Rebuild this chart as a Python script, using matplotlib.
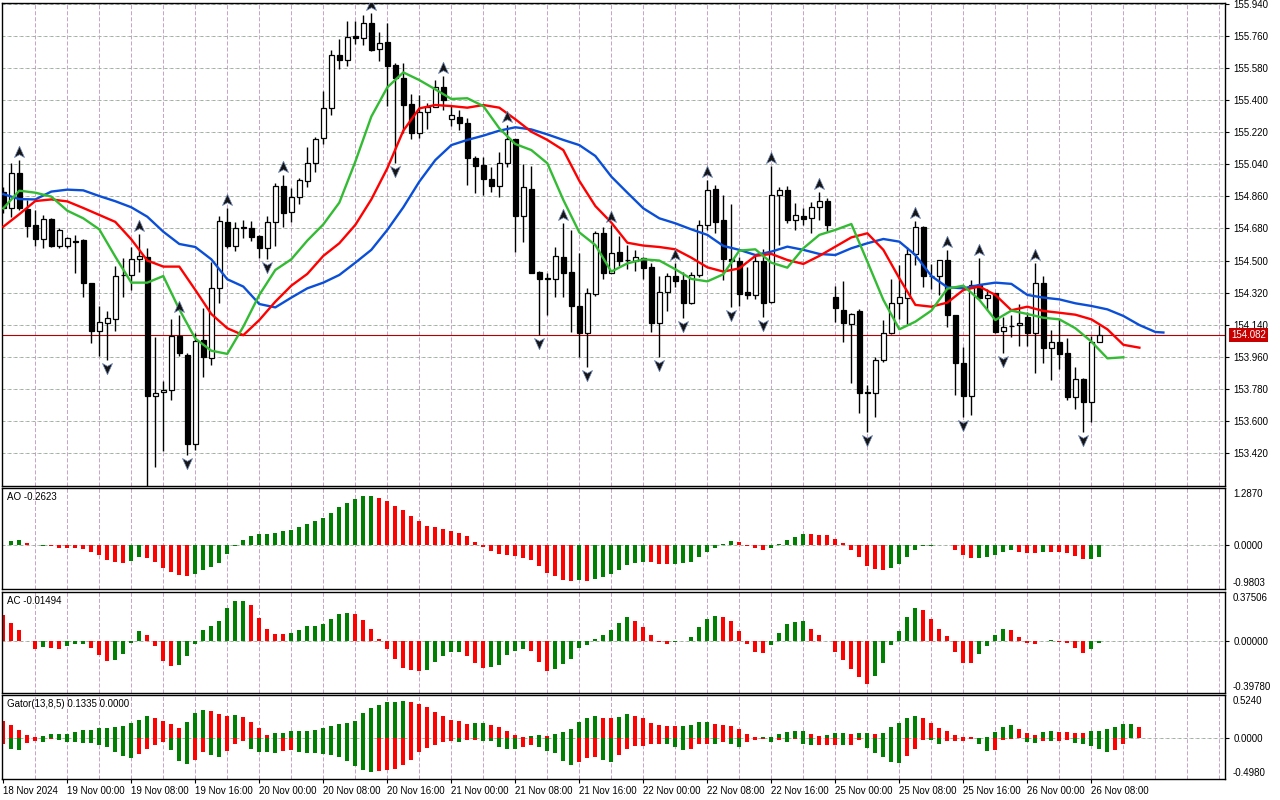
import numpy as np
import matplotlib.pyplot as plt
from matplotlib.path import Path
from matplotlib.transforms import offset_copy

plt.rcParams['font.family'] = ['Liberation Sans', 'DejaVu Sans']
plt.rcParams['font.size'] = 7
plt.rcParams['lines.scale_dashes'] = False

# hourly bars, first bar = 18 Nov 2024 16:00
opens = [154.887, 154.793, 154.990, 154.788, 154.698, 154.623, 154.733, 154.582, 154.582, 154.608,
         154.616, 154.372, 154.107, 154.152, 154.171, 154.417, 154.417, 154.507, 154.522, 153.741,
         153.760, 153.773, 154.077, 153.970, 153.468, 154.055, 153.952, 154.344, 154.716, 154.582,
         154.687, 154.685, 154.638, 154.569, 154.715, 154.918, 154.771, 154.859, 154.948, 155.050,
         155.186, 155.354, 155.653, 155.625, 155.760, 155.747, 155.831, 155.685, 155.728, 155.597,
         155.523, 155.379, 155.214, 155.336, 155.364, 155.472, 155.293, 155.308, 155.270, 155.074,
         155.036, 154.958, 154.920, 155.050, 155.180, 154.750, 154.900, 154.438, 154.398, 154.395,
         154.522, 154.434, 154.245, 154.096, 154.312, 154.653, 154.432, 154.546, 154.505, 154.500,
         154.513, 154.466, 154.151, 154.325, 154.413, 154.391, 154.260, 154.417, 154.698, 154.902,
         154.728, 154.511, 154.500, 154.323, 154.308, 154.500, 154.269, 154.868, 154.896, 154.727,
         154.750, 154.737, 154.799, 154.834, 154.297, 154.223, 154.144, 154.217, 153.762, 153.758,
         153.942, 154.092, 154.260, 154.288, 154.535, 154.687, 154.415, 154.413, 154.503, 154.194,
         153.923, 153.740, 154.363, 154.288, 154.316, 154.107, 154.135, 154.137, 154.185, 154.096,
         154.376, 154.007, 154.045, 153.979, 153.732, 153.833, 153.708, 154.045]
highs = [154.915, 155.046, 155.064, 154.840, 154.784, 154.756, 154.737, 154.681, 154.634, 154.644,
         154.619, 154.374, 154.245, 154.214, 154.470, 154.513, 154.574, 154.647, 154.569, 154.073,
         153.824, 154.170, 154.195, 153.979, 154.092, 154.232, 154.494, 154.750, 154.793, 154.718,
         154.727, 154.724, 154.644, 154.750, 154.937, 154.980, 154.905, 154.965, 155.139, 155.192,
         155.453, 155.681, 155.741, 155.846, 155.846, 155.878, 155.891, 155.784, 155.835, 155.607,
         155.611, 155.433, 155.429, 155.386, 155.513, 155.536, 155.367, 155.345, 155.298, 155.087,
         155.083, 155.027, 155.107, 155.261, 155.182, 155.042, 155.031, 154.440, 154.432, 154.574,
         154.712, 154.672, 154.541, 154.344, 154.668, 154.687, 154.700, 154.638, 154.588, 154.560,
         154.522, 154.485, 154.413, 154.432, 154.485, 154.438, 154.438, 154.727, 154.952, 154.924,
         154.868, 154.817, 154.522, 154.466, 154.526, 154.563, 155.031, 154.915, 154.918, 154.821,
         154.793, 154.831, 154.887, 154.849, 154.357, 154.387, 154.208, 154.226, 153.801, 153.961,
         154.166, 154.395, 154.475, 154.578, 154.724, 154.694, 154.479, 154.503, 154.560, 154.196,
         154.017, 154.391, 154.513, 154.338, 154.318, 154.185, 154.194, 154.256, 154.213, 154.485,
         154.413, 154.110, 154.170, 154.064, 153.904, 153.839, 154.077, 154.138]
lows = [154.765, 154.746, 154.784, 154.634, 154.582, 154.569, 154.578, 154.569, 154.569, 154.429,
        154.294, 154.036, 153.965, 153.942, 154.107, 154.294, 154.335, 154.438, 153.236, 153.343,
        153.433, 153.717, 153.965, 153.408, 153.436, 153.844, 153.914, 154.260, 154.569, 154.556,
        154.629, 154.612, 154.516, 154.507, 154.582, 154.690, 154.718, 154.818, 154.915, 154.999,
        155.154, 155.317, 155.575, 155.592, 155.713, 155.710, 155.678, 155.622, 155.367, 155.046,
        155.218, 155.180, 155.186, 155.236, 155.360, 155.345, 155.255, 155.233, 154.922, 154.877,
        154.870, 154.883, 154.859, 155.023, 154.550, 154.602, 154.429, 154.082, 154.194, 154.297,
        154.294, 154.097, 153.957, 153.904, 154.301, 154.395, 154.429, 154.470, 154.451, 154.444,
        154.395, 154.101, 153.960, 154.219, 154.350, 154.176, 154.256, 154.410, 154.672, 154.653,
        154.391, 154.241, 154.245, 154.282, 154.282, 154.185, 154.264, 154.588, 154.709, 154.672,
        154.700, 154.656, 154.727, 154.662, 154.157, 154.045, 153.811, 153.642, 153.539, 153.623,
        153.932, 154.088, 154.170, 154.144, 154.475, 154.354, 154.338, 154.307, 154.129, 153.745,
        153.623, 153.633, 154.282, 154.222, 154.092, 153.983, 154.073, 154.021, 154.021, 153.871,
        153.927, 153.829, 153.889, 153.717, 153.665, 153.539, 153.596, 154.045]
closes = [154.793, 154.990, 154.793, 154.694, 154.623, 154.731, 154.582, 154.672, 154.625, 154.604,
          154.372, 154.107, 154.154, 154.176, 154.414, 154.421, 154.507, 154.526, 153.741, 153.758,
          153.773, 154.077, 153.979, 153.468, 154.049, 153.957, 154.344, 154.722, 154.582, 154.685,
          154.683, 154.634, 154.569, 154.715, 154.918, 154.765, 154.859, 154.952, 155.046, 155.180,
          155.354, 155.653, 155.625, 155.753, 155.747, 155.831, 155.681, 155.722, 155.594, 155.523,
          155.373, 155.214, 155.336, 155.364, 155.472, 155.401, 155.317, 155.270, 155.074, 155.032,
          154.958, 154.920, 155.050, 155.180, 154.750, 154.911, 154.432, 154.395, 154.396, 154.528,
          154.432, 154.245, 154.096, 154.316, 154.653, 154.432, 154.544, 154.500, 154.501, 154.518,
          154.460, 154.151, 154.325, 154.413, 154.387, 154.260, 154.417, 154.698, 154.896, 154.718,
          154.507, 154.500, 154.312, 154.308, 154.500, 154.264, 154.868, 154.896, 154.727, 154.756,
          154.735, 154.802, 154.834, 154.700, 154.232, 154.148, 154.200, 153.758, 153.758, 153.942,
          154.092, 154.260, 154.294, 154.535, 154.687, 154.413, 154.411, 154.503, 154.194, 153.923,
          153.740, 154.363, 154.288, 154.307, 154.101, 154.129, 154.131, 154.152, 154.096, 154.372,
          154.007, 154.045, 153.974, 153.736, 153.833, 153.708, 154.045, 154.082]
last_price = 154.082

# alligator lines (already shifted), sampled every second bar
jaw_bars = list(range(0, 145, 2)) + [145]
jaw = [154.873, 154.845, 154.843, 154.887, 154.898, 154.894, 154.862, 154.833, 154.799, 154.746,
       154.662, 154.593, 154.576, 154.507, 154.395, 154.354, 154.256, 154.237, 154.292, 154.344,
       154.376, 154.419, 154.488, 154.560, 154.672, 154.799, 154.943, 155.064, 155.148, 155.177,
       155.201, 155.229, 155.248, 155.236, 155.208, 155.177, 155.148, 155.087, 154.971, 154.881,
       154.793, 154.737, 154.709, 154.675, 154.644, 154.582, 154.560, 154.531, 154.550, 154.578,
       154.560, 154.537, 154.531, 154.569, 154.597, 154.621, 154.606, 154.531, 154.413, 154.350,
       154.344, 154.363, 154.376, 154.369, 154.307, 154.292, 154.282, 154.260, 154.245, 154.226,
       154.189, 154.138, 154.099, 154.096]
teeth_bars = list(range(0, 143, 2))
teeth = [154.690, 154.760, 154.834, 154.843, 154.832, 154.795, 154.756, 154.717, 154.619, 154.500,
         154.466, 154.466, 154.335, 154.200, 154.120, 154.081, 154.166, 154.269, 154.359, 154.425,
         154.526, 154.597, 154.700, 154.843, 155.018, 155.229, 155.354, 155.373, 155.367, 155.358,
         155.373, 155.358, 155.293, 155.223, 155.177, 155.120, 154.947, 154.806, 154.713, 154.600,
         154.584, 154.576, 154.563, 154.516, 154.462, 154.438, 154.456, 154.526, 154.537, 154.503,
         154.481, 154.526, 154.578, 154.630, 154.653, 154.560, 154.400, 154.251, 154.241, 154.264,
         154.335, 154.354, 154.307, 154.221, 154.241, 154.217, 154.207, 154.196, 154.170, 154.114,
         154.027, 154.011]
lips_bars = list(range(0, 141, 2))
lips = [154.793, 154.892, 154.881, 154.859, 154.780, 154.737, 154.675, 154.522, 154.376, 154.376,
        154.413, 154.226, 154.062, 153.994, 153.976, 154.129, 154.307, 154.447, 154.507, 154.612,
        154.703, 154.825, 155.055, 155.308, 155.472, 155.556, 155.513, 155.461, 155.407, 155.411,
        155.367, 155.242, 155.154, 155.120, 155.046, 154.840, 154.658, 154.587, 154.438, 154.484,
        154.507, 154.500, 154.451, 154.397, 154.383, 154.423, 154.556, 154.563, 154.488, 154.460,
        154.569, 154.644, 154.672, 154.705, 154.494, 154.279, 154.114, 154.157, 154.219, 154.342,
        154.359, 154.279, 154.166, 154.219, 154.200, 154.179, 154.170, 154.120, 154.045, 153.951,
        153.957]

fractal_up = [2, 17, 22, 28, 35, 46, 55, 63, 70, 76, 84, 88, 96, 102, 114, 118, 122, 129]
fractal_down = [13, 18, 23, 33, 49, 67, 73, 82, 85, 91, 95, 108, 120, 125, 135]

# Awesome oscillator
ao = [0.015, 0.090, 0.112, 0.060, 0.002, -0.007, -0.010, -0.055, -0.060, -0.065,
      -0.090, -0.150, -0.224, -0.337, -0.381, -0.404, -0.359, -0.269, -0.284, -0.374,
      -0.509, -0.598, -0.673, -0.688, -0.643, -0.561, -0.486, -0.396, -0.202, -0.015,
      0.112, 0.202, 0.247, 0.250, 0.277, 0.314, 0.344, 0.411, 0.479, 0.546,
      0.606, 0.718, 0.853, 0.950, 1.032, 1.100, 1.102, 1.062, 0.995, 0.875,
      0.785, 0.651, 0.539, 0.426, 0.404, 0.359, 0.314, 0.269, 0.202, 0.067,
      -0.030, -0.127, -0.194, -0.224, -0.247, -0.292, -0.337, -0.471, -0.628, -0.696,
      -0.785, -0.808, -0.785, -0.808, -0.755, -0.718, -0.651, -0.561, -0.449, -0.404,
      -0.381, -0.385, -0.426, -0.430, -0.426, -0.404, -0.381, -0.269, -0.157, -0.067,
      0.022, 0.090, 0.067, -0.015, -0.067, -0.112, -0.067, 0.022, 0.112, 0.180,
      0.247, 0.245, 0.243, 0.224, 0.135, 0.045, -0.105, -0.262, -0.471, -0.531,
      -0.561, -0.509, -0.419, -0.262, -0.105, -0.010, -0.004, 0.015, 0.018, -0.105,
      -0.217, -0.284, -0.280, -0.269, -0.217, -0.150, -0.105, -0.150, -0.172, -0.175,
      -0.150, -0.152, -0.155, -0.172, -0.239, -0.307, -0.300, -0.2623]
ao_dir = ("gggrrgrrrr" "rrrrrrggrr" "rrrrgggggg" "gggggggggg" "gggggggrrr"
          "rrrrrrrrrr" "rrrrrrrrrr" "rrgrgggggg" "grrrgggggg" "ggrrrrgggg"
          "grrrrrrrrr" "rggggggggr" "rrgggggrrr" "grrrrrgg")

# Accelerator oscillator
ac = [0.196, 0.138, 0.082, -0.003, -0.064, -0.048, -0.056, -0.064, -0.041, -0.023,
      -0.020, -0.056, -0.110, -0.156, -0.148, -0.102, -0.015, 0.074, 0.043, -0.041,
      -0.156, -0.194, -0.186, -0.117, -0.023, 0.082, 0.112, 0.150, 0.250, 0.303,
      0.305, 0.273, 0.173, 0.089, 0.051, 0.050, 0.059, 0.082, 0.112, 0.113,
      0.128, 0.166, 0.204, 0.212, 0.204, 0.158, 0.089, 0.013, -0.064, -0.140,
      -0.207, -0.219, -0.232, -0.224, -0.163, -0.117, -0.087, -0.086, -0.117, -0.171,
      -0.209, -0.201, -0.186, -0.110, -0.079, -0.064, -0.079, -0.163, -0.232, -0.217,
      -0.179, -0.140, -0.056, -0.033, 0.013, 0.043, 0.082, 0.135, 0.181, 0.150,
      0.105, 0.043, -0.008, -0.023, -0.005, -0.003, 0.028, 0.105, 0.166, 0.189,
      0.181, 0.150, 0.074, -0.023, -0.084, -0.092, -0.033, 0.059, 0.128, 0.143,
      0.150, 0.089, 0.043, -0.002, -0.084, -0.148, -0.214, -0.278, -0.332, -0.270,
      -0.168, -0.031, 0.074, 0.181, 0.250, 0.235, 0.166, 0.089, 0.036, -0.084,
      -0.171, -0.172, -0.102, -0.041, 0.043, 0.089, 0.088, 0.028, -0.015, -0.023,
      0.003, 0.004, -0.005, -0.015, -0.056, -0.092, -0.064, -0.01494]
ac_dir = ("rrrrrgrrgg" "grrrggggrr" "rrgggggggg" "grrrrrgggg" "ggggrrrrrr"
          "rrrgggggrr" "rgggggrrrg" "gggggggggr" "rrrrgggggg" "rrrrrrgggg"
          "grrrrrrrrg" "gggggrrrrr" "rrggggrrrr" "ggrrrrgg")

# Gator oscillator: upper |jaw-teeth|, lower -|teeth-lips|
gator_up = [0.203, 0.154, 0.102, 0.041, 0.008, 0.028, 0.045, 0.053, 0.054, 0.077,
            0.097, 0.102, 0.118, 0.119, 0.130, 0.142, 0.187, 0.223, 0.264, 0.248,
            0.211, 0.166, 0.126, 0.191, 0.300, 0.345, 0.333, 0.288, 0.272, 0.284,
            0.260, 0.191, 0.118, 0.032, 0.061, 0.065, 0.081, 0.082, 0.085, 0.102,
            0.126, 0.150, 0.166, 0.187, 0.211, 0.309, 0.369, 0.406, 0.434, 0.443,
            0.447, 0.443, 0.418, 0.382, 0.321, 0.272, 0.223, 0.211, 0.175, 0.179,
            0.180, 0.162, 0.134, 0.089, 0.041, 0.008, 0.028, 0.041, 0.028, 0.053,
            0.077, 0.114, 0.199, 0.248, 0.272, 0.248, 0.247, 0.260, 0.296, 0.272,
            0.244, 0.187, 0.162, 0.150, 0.149, 0.151, 0.162, 0.199, 0.200, 0.175,
            0.162, 0.150, 0.114, 0.053, 0.012, 0.016, 0.017, 0.053, 0.077, 0.089,
            0.090, 0.053, 0.028, 0.041, 0.065, 0.066, 0.053, 0.065, 0.066, 0.049,
            0.065, 0.138, 0.187, 0.248, 0.272, 0.248, 0.187, 0.126, 0.089, 0.041,
            0.016, 0.008, 0.004, 0.010, 0.077, 0.138, 0.162, 0.114, 0.065, 0.041,
            0.077, 0.089, 0.077, 0.076, 0.065, 0.064, 0.089, 0.090, 0.114, 0.138,
            0.175, 0.176, 0.1335]
gator_up_dir = ("rrrrrggggg" "gggggggggr" "rrrgggrrrg" "rrrrgggggg" "gggggggggg"
                "grrrrrrrrg" "grrrrrggrg" "gggggrrggr" "rrrrrggggr" "rrrrrggggg"
                "grrgggrggr" "gggggrrrrr" "rrrggggrrr" "ggrrrrgggg" "ggr")
gator_dn = [-0.073, -0.130, -0.142, -0.065, -0.032, -0.053, -0.008, -0.024, -0.045, -0.049,
            -0.057, -0.065, -0.081, -0.106, -0.166, -0.215, -0.240, -0.191, -0.130, -0.081,
            -0.045, -0.142, -0.276, -0.313, -0.264, -0.166, -0.203, -0.227, -0.154, -0.069,
            -0.032, -0.130, -0.166, -0.175, -0.179, -0.154, -0.150, -0.166, -0.179, -0.187,
            -0.191, -0.207, -0.227, -0.276, -0.337, -0.386, -0.410, -0.398, -0.386, -0.374,
            -0.325, -0.264, -0.166, -0.118, -0.081, -0.045, -0.032, -0.053, -0.028, -0.020,
            -0.032, -0.041, -0.106, -0.130, -0.131, -0.106, -0.081, -0.106, -0.154, -0.179,
            -0.276, -0.325, -0.288, -0.240, -0.227, -0.264, -0.288, -0.203, -0.130, -0.093,
            -0.092, -0.069, -0.068, -0.070, -0.106, -0.142, -0.130, -0.069, -0.068, -0.070,
            -0.045, -0.069, -0.106, -0.045, -0.024, -0.008, -0.045, -0.024, -0.045, -0.008,
            -0.069, -0.081, -0.080, -0.081, -0.080, -0.082, -0.081, -0.020, -0.118, -0.179,
            -0.227, -0.288, -0.300, -0.215, -0.130, -0.020, -0.028, -0.069, -0.041, -0.040,
            -0.032, -0.008, -0.069, -0.154, -0.142, -0.028, -0.008, -0.004, -0.045, -0.057,
            -0.032, -0.033, -0.032, -0.020, -0.057, -0.069, -0.093, -0.130, -0.166, -0.142,
            -0.069]
gator_dn_dir = ("rggrrgrggg" "gggggggrrr" "rgggrrggrr" "rggggrrggg" "gggggggrrr"
                "rrrrrrrgrr" "gggggrrggg" "ggrrrggrrr" "rrrgggrrrg" "rggrrrgrgr"
                "ggrrrgrrgg" "gggrrrggrr" "rrggrrrrgg" "rgrrgggggr" "r")

price_levels = [155.940, 155.760, 155.580, 155.400, 155.220, 155.040, 154.860, 154.680,
                154.500, 154.320, 154.140, 153.960, 153.780, 153.600, 153.420]
time_labels = ['18 Nov 2024', '19 Nov 00:00', '19 Nov 08:00', '19 Nov 16:00', '20 Nov 00:00',
               '20 Nov 08:00', '20 Nov 16:00', '21 Nov 00:00', '21 Nov 08:00', '21 Nov 16:00',
               '22 Nov 00:00', '22 Nov 08:00', '22 Nov 16:00', '25 Nov 00:00', '25 Nov 08:00',
               '25 Nov 16:00', '26 Nov 00:00', '26 Nov 08:00']
time_label_bars = list(range(0, 137, 8))

GREEN = '#008000'
RED = '#ff0000'


def bar_colors(s):
    return [GREEN if ch == 'g' else RED for ch in s]


def draw_grid(a, levels):
    # MT4 style dashed grid: pink verticals, grey-green horizontals with pink dots
    for xv in range(4, 153, 4):
        a.axvline(xv, color='#c8a4c8', lw=0.72, ls=(0, (2.9, 1.45)), zorder=0)
    for yv in levels:
        a.axhline(yv, color='#9ab89a', lw=0.72, ls=(0, (2.16, 2.16)), zorder=0)
        a.axhline(yv, color='#d0a4d0', lw=0.72, ls=(0.72, (0.72, 3.6)), zorder=0)


fig = plt.figure(figsize=(12.8, 8), dpi=100)
left, width = 2 / 1280, 1223 / 1280
ax = fig.add_axes([left, 1 - 486 / 800, width, 483 / 800])
ax_ao = fig.add_axes([left, 1 - 589 / 800, width, 101 / 800])
ax_ac = fig.add_axes([left, 1 - 693 / 800, width, 101 / 800])
ax_g = fig.add_axes([left, 1 - 779 / 800, width, 84 / 800])

for a in (ax, ax_ao, ax_ac, ax_g):
    a.set_xlim(-0.16, 152.7)
    for sp in a.spines.values():
        sp.set_color('black')
        sp.set_linewidth(1.0)
    a.yaxis.tick_right()
    a.tick_params(axis='y', length=3, width=0.8, pad=3, labelsize=7, colors='black')
    a.tick_params(axis='x', length=0, labelbottom=False)

# ---- main price panel ----
draw_grid(ax, price_levels)
x = np.arange(len(opens))
o, h, l, c = (np.array(v) for v in (opens, highs, lows, closes))
ax.axhline(last_price, color='#b40000', lw=0.8, zorder=1)
ax.vlines(x, l, h, color='black', lw=1.0, zorder=2)
up = c >= o
body_lo = np.minimum(o, c)
body_h = np.maximum(np.abs(c - o), 0.004)
ax.bar(x[up], body_h[up], 0.62, bottom=body_lo[up], facecolor='white',
       edgecolor='black', linewidth=0.9, zorder=3)
ax.bar(x[~up], body_h[~up], 0.62, bottom=body_lo[~up], facecolor='black',
       edgecolor='black', linewidth=0.9, zorder=3)

ax.plot(jaw_bars, jaw, color='#0a4fd8', lw=1.7, zorder=4)
ax.plot(teeth_bars, teeth, color='#ff0000', lw=1.7, zorder=4)
ax.plot(lips_bars, lips, color='#33bb33', lw=1.7, zorder=4)

arrow_up = Path([(0, 1), (0.8, -0.8), (0, -0.35), (-0.8, -0.8), (0, 1)],
                [Path.MOVETO, Path.LINETO, Path.LINETO, Path.LINETO, Path.CLOSEPOLY])
arrow_dn = Path([(0, -1), (0.8, 0.8), (0, 0.35), (-0.8, 0.8), (0, -1)],
                [Path.MOVETO, Path.LINETO, Path.LINETO, Path.LINETO, Path.CLOSEPOLY])
tr_up = offset_copy(ax.transData, fig=fig, y=8, units='dots')
tr_dn = offset_copy(ax.transData, fig=fig, y=-8, units='dots')
ax.plot(fractal_up, h[fractal_up], ls='none', marker=arrow_up, ms=9, mfc='#151515',
        mec='#7088b8', mew=0.5, transform=tr_up, zorder=5)
ax.plot(fractal_down, l[fractal_down], ls='none', marker=arrow_dn, ms=9, mfc='#151515',
        mec='#7088b8', mew=0.5, transform=tr_dn, zorder=5)

ax.set_ylim(153.2345, 155.9456)
ax.set_yticks(price_levels)
ax.set_yticklabels([f'{v:.3f}' for v in price_levels])
ax.set_xticks([])
ax.annotate(f'{last_price:.3f}', xy=(1, last_price), xycoords=('axes fraction', 'data'),
            xytext=(6, 0), textcoords='offset pixels', ha='left', va='center', color='white',
            fontsize=7, bbox=dict(boxstyle='square,pad=0.2', fc='#c80000', ec='none'),
            annotation_clip=False, zorder=10)


def indicator_panel(a, lo, hi, fmt, title):
    draw_grid(a, [0])
    a.set_ylim(lo, hi)
    a.set_yticks([0])
    a.set_yticklabels([fmt.format(0.0)])
    a.set_xticks([])
    a.annotate(fmt.format(hi), xy=(1, 1), xycoords='axes fraction', xytext=(8, -1),
               textcoords='offset pixels', ha='left', va='top', fontsize=7, annotation_clip=False)
    a.annotate(fmt.format(lo), xy=(1, 0), xycoords='axes fraction', xytext=(8, 1),
               textcoords='offset pixels', ha='left', va='bottom', fontsize=7, annotation_clip=False)
    a.annotate(title, xy=(0, 1), xycoords='axes fraction', xytext=(5, -4),
               textcoords='offset pixels', ha='left', va='top', fontsize=7)


indicator_panel(ax_ao, -0.9803, 1.2870, '{:.4f}', f'AO {ao[-1]:.4f}')
ax_ao.bar(np.arange(len(ao)), ao, 0.5, color=bar_colors(ao_dir), zorder=2)

indicator_panel(ax_ac, -0.39780, 0.37506, '{:.5f}', f'AC {ac[-1]:.5f}')
ax_ac.bar(np.arange(len(ac)), ac, 0.5, color=bar_colors(ac_dir), zorder=2)

indicator_panel(ax_g, -0.4980, 0.5240, '{:.4f}', 'Gator(13,8,5) 0.1335 0.0000')
ax_g.bar(np.arange(len(gator_up)), gator_up, 0.5, color=bar_colors(gator_up_dir), zorder=2)
ax_g.bar(np.arange(len(gator_dn)), gator_dn, 0.5, color=bar_colors(gator_dn_dir), zorder=2)

ax_g.set_xticks(time_label_bars)
ax_g.set_xticklabels(time_labels, ha='left')
ax_g.tick_params(axis='x', length=3, width=0.8, pad=2, labelsize=7, labelbottom=True)

fig.savefig('out.png', dpi=100)
